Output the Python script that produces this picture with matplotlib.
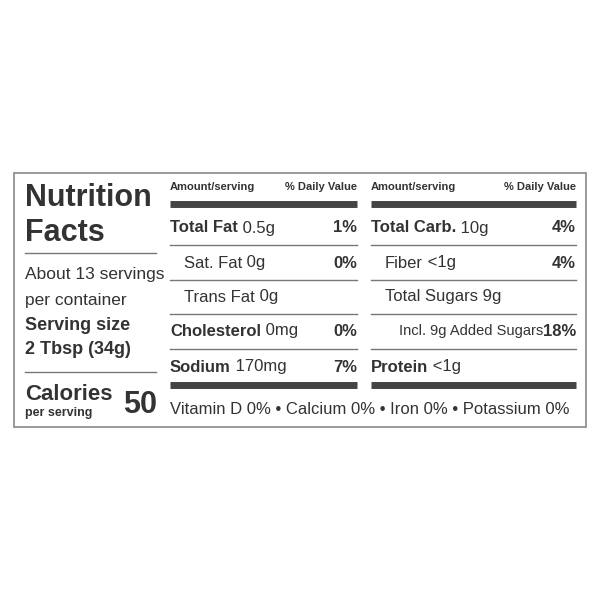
import matplotlib.pyplot as plt

# nutrient rows: (bold part, amount, % daily value, indent)
mid_names = ['Total Fat', 'Sat. Fat', 'Trans Fat', 'Cholesterol', 'Sodium']
mid_amounts = ['0.5g', '0g', '0g', '0mg', '170mg']
mid_dv = ['1%', '0%', '', '0%', '7%']
mid_bold = [True, False, False, True, True]

right_names = ['Total Carb.', 'Fiber', 'Total Sugars', 'Incl. 9g Added Sugars', 'Protein']
right_amounts = ['10g', '<1g', '9g', '', '<1g']
right_dv = ['4%', '4%', '', '18%', '']
right_bold = [True, False, False, False, True]
right_indent = [0, 14, 14, 28, 0]

vitamins = 'Vitamin D 0% • Calcium 0% • Iron 0% • Potassium 0%'
calories = '50'

FAM = ['Liberation Sans Narrow', 'Liberation Sans', 'DejaVu Sans']
INK = '#333333'
plt.rcParams['font.family'] = FAM

fig = plt.figure(figsize=(6, 6), dpi=100)
ax = fig.add_axes([0, 0, 1, 1])
ax.set_xlim(0, 600)
ax.set_ylim(600, 0)
ax.axis('off')

ax.add_patch(plt.Rectangle((14, 173), 572, 254, fill=False, ec='#888888', lw=1.2))

# left column
ax.text(25, 198, 'Nutrition', fontsize=22, fontweight='bold', color=INK, va='center')
ax.text(25, 233, 'Facts', fontsize=22, fontweight='bold', color=INK, va='center')
ax.plot([25, 156], [253, 253], color='#777777', lw=1)
ax.text(25, 275, 'About 13 servings', fontsize=12.5, color=INK, va='center')
ax.text(25, 300, 'per container', fontsize=12.5, color=INK, va='center')
ax.text(25, 325, 'Serving size', fontsize=13, fontweight='bold', color=INK, va='center')
ax.text(25, 349, '2 Tbsp (34g)', fontsize=13, fontweight='bold', color=INK, va='center')
ax.plot([25, 156], [372, 372], color='#777777', lw=1)
ax.text(25, 394, 'Calories', fontsize=16, fontweight='bold', color=INK, va='center')
ax.text(25, 413, 'per serving', fontsize=9, fontweight='bold', color=INK, va='center')
ax.text(157, 405, calories, fontsize=22, fontweight='bold', color=INK, va='center', ha='right')

row_y = [228, 263, 297, 331, 367]
line_y = [245, 280, 314, 349]


def column(x0, x1, names, amounts, dv, bold, indent):
    ax.text(x0, 187, 'Amount/serving', fontsize=8, fontweight='bold', color=INK, va='center')
    ax.text(x1, 187, '% Daily Value', fontsize=8, fontweight='bold', color=INK, va='center', ha='right')
    ax.plot([x0, x1], [204, 204], color='#444444', lw=5, solid_capstyle='butt')
    for i, y in enumerate(row_y):
        size = 10.5 if len(names[i]) > 15 else 12
        t = ax.text(x0 + indent[i], y, names[i], fontsize=size, color=INK, va='center',
                    fontweight='bold' if bold[i] else 'normal')
        if amounts[i]:
            ax.annotate(' ' + amounts[i], xycoords=t, xy=(1, 0.5), va='center',
                        fontsize=12, color=INK)
        if dv[i]:
            ax.text(x1, y, dv[i], fontsize=12, fontweight='bold', color=INK, va='center', ha='right')
    for y in line_y:
        ax.plot([x0, x1], [y, y], color='#777777', lw=1)
    ax.plot([x0, x1], [385, 385], color='#444444', lw=5, solid_capstyle='butt')


column(170, 357, mid_names, mid_amounts, mid_dv, mid_bold, [0, 14, 14, 0, 0])
column(371, 576, right_names, right_amounts, right_dv, right_bold, right_indent)

ax.text(170, 409, vitamins, fontsize=12, color=INK, va='center')

fig.savefig('out.png', dpi=100, facecolor='white')
